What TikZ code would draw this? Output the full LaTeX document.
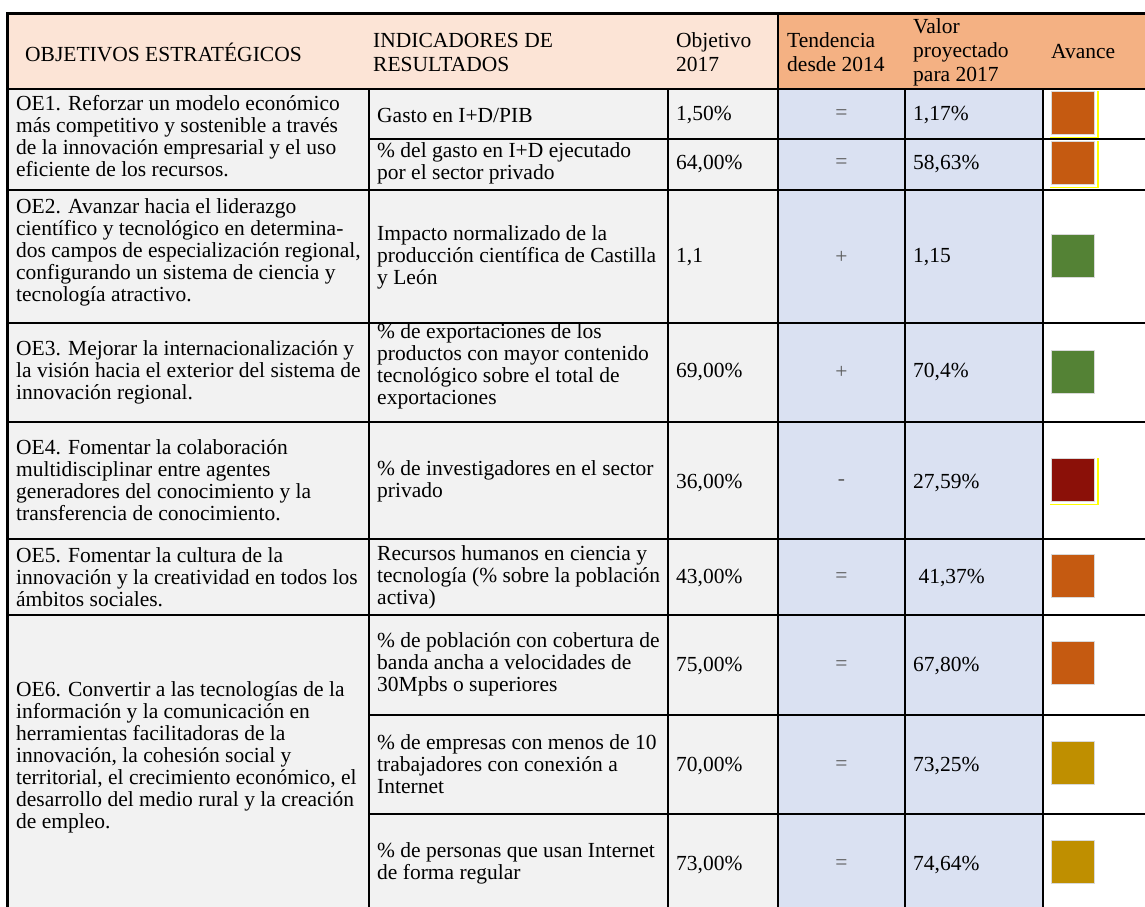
\documentclass[tikz,border=0pt]{standalone}
\usepackage{fontspec}
\setmainfont{Liberation Serif}
\usetikzlibrary{positioning}
\definecolor{HeadLeft}{RGB}{252,228,214}
\definecolor{HeadRight}{RGB}{244,177,131}
\definecolor{CellGray}{RGB}{242,242,242}
\definecolor{CellBlue}{RGB}{218,225,242}
\definecolor{AvOrange}{RGB}{197,90,17}
\definecolor{AvGreen}{RGB}{84,130,53}
\definecolor{AvRed}{RGB}{139,16,8}
\definecolor{AvGold}{RGB}{191,143,0}
\definecolor{Mark}{RGB}{255,255,0}
\tikzset{
  celltext/.style={anchor=west,align=left,inner sep=0pt,font=\fontsize{21.5}{22}\selectfont},
  headtext/.style={celltext,font=\fontsize{21.5}{24}\selectfont},
  trendtext/.style={anchor=center,inner sep=0pt,text=black!65,font=\fontsize{21.5}{22}\selectfont},
  grid/.style={line width=2pt},
  frame/.style={line width=3pt},
  avance/.style={draw=white!85!black,line width=0.6pt,minimum size=43pt,inner sep=0pt},
}

\begin{document}
\begin{tikzpicture}[x=1pt,y=-1pt]
  \useasboundingbox (0,0) rectangle (1145,906);
  \clip (0,0) rectangle (1145,906);
  % Fondos
  \fill[white] (0,0) rectangle (1145,906);
  \fill[HeadLeft] (7,13) rectangle (778,89);
  \fill[HeadRight] (778,13) rectangle (1150,89);
  \fill[CellGray] (7,89) rectangle (778,920);
  \fill[CellBlue] (778,89) rectangle (1043,920);
  % Rejilla
  \foreach \y in {89,190,323,422,539,615}
    \draw[grid] (7,\y) -- (1150,\y);
  \foreach \y in {139,715,814}
    \draw[grid] (369,\y) -- (1150,\y);
  \foreach \x in {369,668,905,1043}
    \draw[grid] (\x,89) -- (\x,920);
  \draw[grid] (778,13) -- (778,920);
  \draw[frame] (7,920) -- (7,13) -- (1150,13);
  % Cabecera
  \node[headtext] (hobj) at (25,52) {OBJETIVOS ESTRATÉGICOS};
  \node[headtext] (hind) at (373,52) {INDICADORES DE\\RESULTADOS};
  \node[headtext] (hmeta) at (676,52) {Objetivo\\2017};
  \node[headtext] (hten) at (787,52) {Tendencia\\desde 2014};
  \node[headtext] (hval) at (913,52) {Valor\\proyectado\\para 2017};
  \node[headtext] (hav) at (1051,52) {Avance};
  % Objetivos estrategicos
  \node[celltext] (oe1) at (16,136) {OE1. Reforzar un modelo económico\\más competitivo y sostenible a través\\de la innovación empresarial y el uso\\eficiente de los recursos.};
  \node[celltext] (oe2) at (16,252) {OE2. Avanzar hacia el liderazgo\\científico y tecnológico en determina-\\dos campos de especialización regional,\\configurando un sistema de ciencia y\\tecnología atractivo.};
  \node[celltext] (oe3) at (16,372) {OE3. Mejorar la internacionalización y\\la visión hacia el exterior del sistema de\\innovación regional.};
  \node[celltext] (oe4) at (16,480) {OE4. Fomentar la colaboración\\multidisciplinar entre agentes\\generadores del conocimiento y la\\transferencia de conocimiento.};
  \node[celltext] (oe5) at (16,577) {OE5. Fomentar la cultura de la\\innovación y la creatividad en todos los\\ámbitos sociales.};
  \node[celltext] (oe6) at (16,757) {OE6. Convertir a las tecnologías de la\\información y la comunicación en\\herramientas facilitadoras de la\\innovación, la cohesión social y\\territorial, el crecimiento económico, el\\desarrollo del medio rural y la creación\\de empleo.};
  % Indicadores
  \node[celltext] (ind1) at (377,115) {Gasto en I+D/PIB};
  \node[celltext] (ind2) at (377,163) {\% del gasto en I+D ejecutado\\por el sector privado};
  \node[celltext] (ind3) at (377,257) {Impacto normalizado de la\\producción científica de Castilla\\y León};
  \node[celltext] (ind4) at (377,366) {\% de exportaciones de los\\productos con mayor contenido\\tecnológico sobre el total de\\exportaciones};
  \node[celltext] (ind5) at (377,481) {\% de investigadores en el sector\\privado};
  \node[celltext] (ind6) at (377,577) {Recursos humanos en ciencia y\\tecnología (\% sobre la población\\activa)};
  \node[celltext] (ind7) at (377,664) {\% de población con cobertura de\\banda ancha a velocidades de\\30Mpbs o superiores};
  \node[celltext] (ind8) at (377,764) {\% de empresas con menos de 10\\trabajadores con conexión a\\Internet};
  \node[celltext] (ind9) at (377,863) {\% de personas que usan Internet\\de forma regular};
  % Valores
  \foreach \n/\y/\obj/\ten/\val in {1/115/{1,50\%}/=/{1,17\%}, 2/164/{64,00\%}/=/{58,63\%},
      3/257/{1,1}/+/{1,15}, 4/372/{69,00\%}/+/{70,4\%}, 5/483/{36,00\%}/-/{27,59\%},
      6/578/{43,00\%}/=/{\ 41,37\%}, 7/666/{75,00\%}/=/{67,80\%}, 8/766/{70,00\%}/=/{73,25\%},
      9/865/{73,00\%}/=/{74,64\%}} {
    \node[celltext] (obj\n) at (676,\y) {\obj};
    \node[trendtext] (ten\n) at (841.5,\y) {\ten};
    \node[celltext] (val\n) at (913,\y) {\val};
  }
  % Avance
  \foreach \n/\y/\c in {1/113/AvOrange,2/163/AvOrange,3/256/AvGreen,4/372/AvGreen,5/480/AvRed,
      6/576/AvOrange,7/663/AvOrange,8/763/AvGold,9/862/AvGold}
    \node[avance,fill=\c] (av\n) at (1073,\y) {};
  \foreach \n in {1,2,5}
    \draw[Mark,line width=1.6pt] ([xshift=3pt]av\n.north east) -- ([shift={(3pt,-2.5pt)}]av\n.south east)
      -- ([shift={(-1pt,-2.5pt)}]av\n.south west);
\end{tikzpicture}
\end{document}
